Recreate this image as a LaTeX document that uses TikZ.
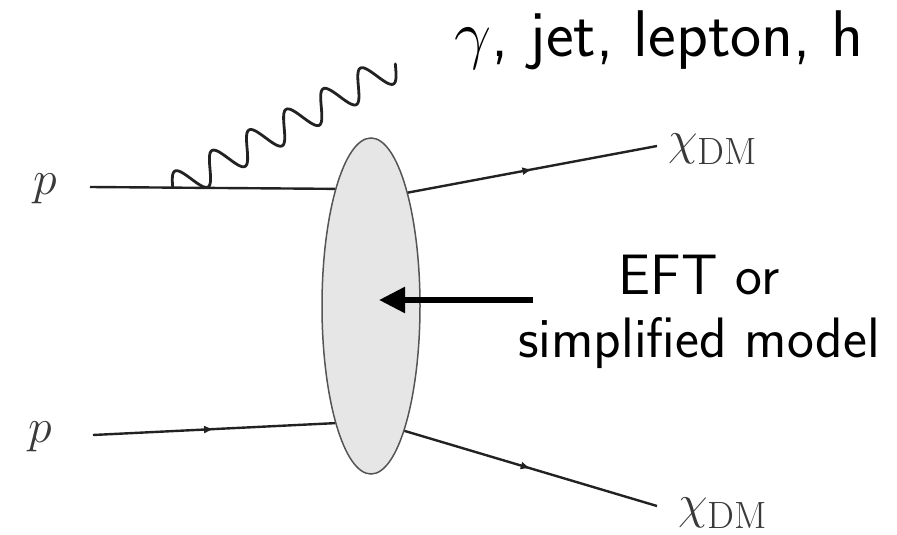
\RequirePackage{fix-cm}
\documentclass[tikz,border=0pt]{standalone}
\usepackage{xcolor}
\usepackage{tikz}
\usetikzlibrary{arrows.meta,calc,positioning,shapes.geometric,decorations.pathmorphing,decorations.markings}

\definecolor{linegray}{HTML}{222222}
\definecolor{labgray}{HTML}{3A3A3A}
\definecolor{blobfill}{HTML}{E6E6E6}
\definecolor{blobline}{HTML}{555555}

\tikzset{
  fermion/.style={draw=linegray,line width=2.4pt},
  fermarrow/.style={fermion,postaction={decorate},
    decoration={markings,mark=at position .5 with {\arrow{Latex[length=10pt,width=8pt]}}}},
  photonline/.style={draw=linegray,line width=2.8pt,line cap=round},
  serlab/.style={text=labgray,font=\fontsize{48}{48}\selectfont,anchor=base west,inner sep=0pt},
  sanslab/.style={font=\sffamily\fontsize{57}{63}\selectfont,align=center}
}
\newcommand{\dmsub}{\raisebox{-10pt}{\fontsize{38}{38}\selectfont DM}}

\begin{document}
\begin{tikzpicture}[x=1pt,y=-1pt]
\useasboundingbox (0,0) rectangle (897,535);
% blob
\node[ellipse,draw=blobline,fill=blobfill,line width=1.5pt,inner sep=0pt,
  minimum width=98pt,minimum height=336pt] (blob) at (371,306){};
% external points
\coordinate (pin1) at (90,187); \coordinate (pin2) at (93,435);
\coordinate (chiout1) at (657,146); \coordinate (chiout2) at (657,506);
\coordinate (phaxis) at (200.7,173.9);
% lines
\draw[fermion] (pin1) -- (blob.107.7);
\draw[fermarrow] (pin2) -- (blob.253.2);
\draw[fermarrow] (blob.72) -- (chiout1);
\draw[fermarrow] (blob.285.4) -- (chiout2);
% photon
\draw[photonline,shift={(phaxis)}] plot[domain=-0.72:5.27,samples=240,smooth]
  ({37.1*\x+7.3*cos(360*\x)},{-20.6*\x+13.1*cos(360*\x)});
% labels
\node[serlab] (plab1) at (33,194){$p$};
\node[serlab] (plab2) at (28,442){$p$};
\node[serlab] (chilab1) at ($(chiout1)+(11,8)$){$\chi$\dmsub};
\node[serlab] (chilab2) at ($(chiout2)+(21,12)$){$\chi$\dmsub};
\node[sanslab,font=\sffamily\fontsize{66}{66}\selectfont,anchor=base] (final) at (659,57){$\gamma$, jet, lepton, h};
\node[sanslab] (eft) at (699,312){EFT or\\simplified model};
% arrow into the blob
\coordinate (arrtail) at (533,300); \coordinate (arrtip) at (379,300);
\draw[line width=5.5pt,-{Triangle[length=26pt,width=25pt]}] (arrtail) -- (arrtip);
\end{tikzpicture}
\end{document}
